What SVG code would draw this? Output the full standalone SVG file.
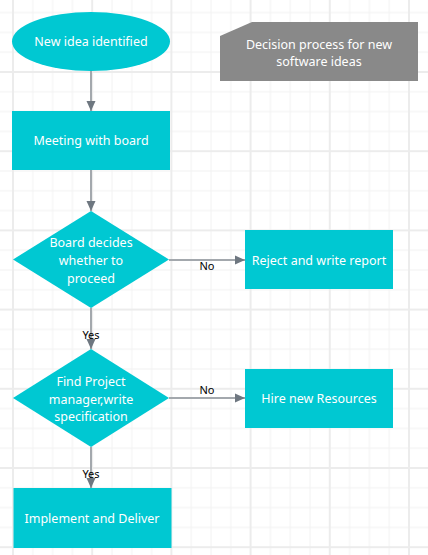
<svg xmlns="http://www.w3.org/2000/svg" width="428" height="555" viewBox="0 0 428 555">
<style>
.node{fill:#00c8d2}
.t{font-family:"Noto Sans","Open Sans",sans-serif;font-size:12.5px;fill:#ffffff;text-anchor:middle}
.lbl{font-family:"Noto Sans","Open Sans",sans-serif;font-size:11px;fill:#000000;text-anchor:middle}
.edge{stroke:#a3a8ad;stroke-width:2;fill:none;marker-end:url(#arr)}
</style>
<defs>
<marker id="arr" markerUnits="userSpaceOnUse" markerWidth="10" markerHeight="10" viewBox="0 0 10 10" refX="10" refY="5" orient="auto">
<path d="M0,0.5 L10,5 L0,9.5 Z" fill="#6e7780"/>
</marker>
<pattern id="grid" patternUnits="userSpaceOnUse" x="12" y="71" width="79.2" height="79.2">
<path d="M20.8,0V79.2M40.6,0V79.2M60.4,0V79.2M0,20.8H79.2M0,40.6H79.2M0,60.4H79.2" stroke="#f2f2f2" stroke-width="1"/>
<path d="M1,0V79.2M0,1H79.2" stroke="#ececec" stroke-width="2"/>
</pattern>
</defs>
<rect width="428" height="555" fill="#ffffff"/>
<rect width="428" height="555" fill="url(#grid)"/>
<g id="connectors">
<line class="edge" x1="91" y1="71" x2="91" y2="111"/>
<line class="edge" x1="91" y1="170" x2="91" y2="211"/>
<line class="edge" x1="91" y1="308" x2="91" y2="349"/>
<line class="edge" x1="91" y1="447" x2="91" y2="488"/>
<line class="edge" x1="169" y1="260" x2="245" y2="260"/>
<line class="edge" x1="169" y1="398" x2="245" y2="398"/>
<text class="lbl" x="91" y="339">Yes</text>
<text class="lbl" x="91" y="478">Yes</text>
<text class="lbl" x="207" y="270">No</text>
<text class="lbl" x="207" y="394">No</text>
</g>
<g id="n-start">
<ellipse class="node" cx="91" cy="41.5" rx="79" ry="29.5"/>
<text class="t" x="91" y="46">New idea identified</text>
</g>
<g id="n-meeting">
<rect class="node" x="12" y="111" width="158" height="59"/>
<text class="t" x="91" y="145">Meeting with board</text>
</g>
<g id="n-board">
<polygon class="node" points="91,211 169,259.5 91,308 13,259.5"/>
<text class="t" x="91" y="247">Board decides</text>
<text class="t" x="91" y="265">whether to</text>
<text class="t" x="91" y="283">proceed</text>
</g>
<g id="n-reject">
<rect class="node" x="245" y="230" width="148" height="59"/>
<text class="t" x="319" y="264.5">Reject and write report</text>
</g>
<g id="n-find">
<polygon class="node" points="91,349 169,398 91,447 13,398"/>
<text class="t" x="91" y="386">Find Project</text>
<text class="t" x="91" y="403.5">manager,write</text>
<text class="t" x="91" y="421">specification</text>
</g>
<g id="n-hire">
<rect class="node" x="245" y="369" width="148" height="59"/>
<text class="t" x="319" y="403">Hire new Resources</text>
</g>
<g id="n-impl">
<rect class="node" x="13.5" y="488" width="158" height="60"/>
<text class="t" x="92" y="522.5">Implement and Deliver</text>
</g>
<g id="n-title">
<polygon points="252,22 418,22 418,81 220,81 220,36" fill="#898989"/>
<text class="t" x="319" y="48.5">Decision process for new</text>
<text class="t" x="319" y="65.5">software ideas</text>
</g>
</svg>
